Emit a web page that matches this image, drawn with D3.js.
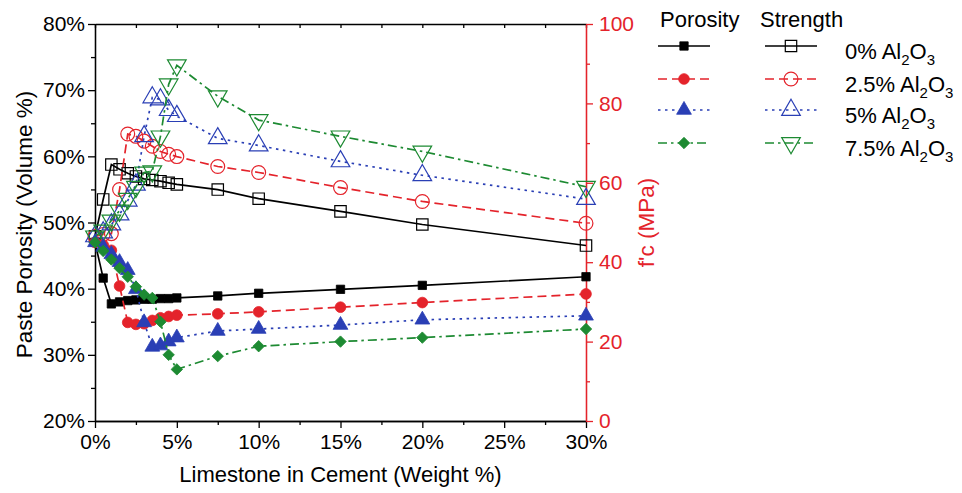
<!DOCTYPE html>
<html>
<head>
<meta charset="utf-8">
<script src="https://cdn.jsdelivr.net/npm/d3@7"></script>
<style>
  body { margin: 0; background: #fff; }
  text { font-family: "Liberation Sans", Arial, sans-serif; }
</style>
</head>
<body>
<svg id="chart" width="962" height="493"></svg>
<script>
// limestone content (weight %)
const limestone = [0, 0.5, 1, 1.5, 2, 2.5, 3, 3.5, 4, 4.5, 5, 7.5, 10, 15, 20, 30];

// paste porosity (volume %), one array per Al2O3 level
const porosity0  = [47.0, 41.6, 37.7, 38.0, 38.2, 38.3, 38.4, 38.4, 38.5, 38.5, 38.6, 38.9, 39.3, 39.9, 40.5, 41.8];
const porosity25 = [47.0, 46.6, 45.8, 40.4, 34.9, 34.6, 34.7, 35.2, 35.6, 35.8, 36.0, 36.2, 36.5, 37.2, 37.9, 39.2];
const porosity5  = [47.0, 46.3, 45.2, 44.0, 42.8, 39.9, 34.9, 31.2, 31.4, 32.0, 32.6, 33.6, 33.9, 34.5, 35.3, 35.9];
const porosity75 = [47.0, 45.7, 44.4, 43.1, 41.8, 40.3, 39.1, 38.6, 35.0, 30.0, 27.8, 29.8, 31.3, 32.0, 32.6, 33.9];

// compressive strength f'c (MPa)
const strength0  = [46.5, 55.8, 64.6, 63.4, 62.4, 61.6, 61.0, 60.7, 60.4, 60.0, 59.6, 58.3, 56.0, 52.8, 49.5, 44.2];
const strength25 = [46.5, 47.0, 47.2, 58.3, 72.3, 71.7, 70.5, 69.2, 67.9, 67.2, 66.6, 64.1, 62.6, 58.8, 55.3, 49.8];
const strength5  = [46.5, 47.5, 49.5, 52.0, 55.5, 59.5, 71.7, 81.5, 81.0, 78.3, 76.8, 71.2, 69.4, 65.4, 61.9, 55.9];
const strength75 = [46.5, 48.0, 50.5, 53.0, 56.0, 59.0, 62.6, 62.9, 71.7, 84.8, 89.6, 81.8, 75.8, 71.7, 67.9, 59.0];

const aluminaLevels = ["0%", "2.5%", "5%", "7.5%"];
const xTicks = [0, 5, 10, 15, 20, 25, 30];
const xMinor = [2.5, 7.5, 12.5, 17.5, 22.5, 27.5];
const porosityTicks = [20, 30, 40, 50, 60, 70, 80];
const porosityMinor = [25, 35, 45, 55, 65, 75];
const strengthTicks = [0, 20, 40, 60, 80, 100];
const strengthMinor = [10, 30, 50, 70, 90];

const porositySeries = [porosity0, porosity25, porosity5, porosity75];
const strengthSeries = [strength0, strength25, strength5, strength75];

const red = "#e4232b";
const styles = [
    { color: "#000000", dash: null,        fill: d3.symbolSquare,   open: d3.symbolSquare,   fillSize: 70,  openSize: 130, fillRot: 0,  openRot: 0 },
    { color: red,       dash: "9,5",       fill: d3.symbolCircle,   open: d3.symbolCircle,   fillSize: 90,  openSize: 150, fillRot: 0,  openRot: 0 },
    { color: "#2a3fb5", dash: "2.5,4.5",   fill: d3.symbolTriangle, open: d3.symbolTriangle, fillSize: 95,  openSize: 150, fillRot: 0,  openRot: 0 },
    { color: "#1d8a32", dash: "9,4,2.5,4", fill: d3.symbolSquare,   open: d3.symbolTriangle, fillSize: 65,  openSize: 150, fillRot: 45, openRot: 180 }
];

const svg = d3.select("#chart");
const plotLeft = 95, plotRight = 586, plotTop = 24, plotBottom = 421;

const x = d3.scaleLinear().domain([0, 30]).range([plotLeft, plotRight]);
const yP = d3.scaleLinear().domain([20, 80]).range([plotBottom, plotTop]);
const yS = d3.scaleLinear().domain([0, 100]).range([plotBottom, plotTop]);

function styleAxis(g, color, size) {
    g.selectAll("path").attr("stroke", color).attr("stroke-width", 1.3);
    g.selectAll("line").attr("stroke", color).attr("stroke-width", 1.3);
    g.selectAll("text").attr("fill", color).style("font-size", size + "px")
        .style("font-family", '"Liberation Sans", Arial, sans-serif');
}

// bottom axis
svg.append("g").attr("transform", `translate(0,${plotBottom})`)
    .call(d3.axisBottom(x).tickValues(xMinor).tickFormat("").tickSize(4).tickSizeOuter(0))
    .call(g => styleAxis(g, "#000", 21));
svg.append("g").attr("transform", `translate(0,${plotBottom})`)
    .call(d3.axisBottom(x).tickValues(xTicks).tickFormat(d => d + "%").tickSize(7).tickPadding(6).tickSizeOuter(0))
    .call(g => styleAxis(g, "#000", 21));

// top border with inward ticks
svg.append("g").attr("transform", `translate(0,${plotTop})`)
    .call(d3.axisTop(x).tickValues(xTicks.concat(xMinor)).tickFormat("").tickSize(-4).tickSizeOuter(0))
    .call(g => styleAxis(g, "#000", 21));

// left porosity axis
svg.append("g").attr("transform", `translate(${plotLeft},0)`)
    .call(d3.axisLeft(yP).tickValues(porosityMinor).tickFormat("").tickSize(4).tickSizeOuter(0))
    .call(g => styleAxis(g, "#000", 21));
svg.append("g").attr("transform", `translate(${plotLeft},0)`)
    .call(d3.axisLeft(yP).tickValues(porosityTicks).tickFormat(d => d + "%").tickSize(7).tickPadding(3).tickSizeOuter(0))
    .call(g => styleAxis(g, "#000", 21));

// right strength axis
svg.append("g").attr("transform", `translate(${plotRight},0)`)
    .call(d3.axisRight(yS).tickValues(strengthMinor).tickFormat("").tickSize(4).tickSizeOuter(0))
    .call(g => styleAxis(g, red, 21));
svg.append("g").attr("transform", `translate(${plotRight},0)`)
    .call(d3.axisRight(yS).tickValues(strengthTicks).tickFormat(d => d).tickSize(7).tickPadding(6).tickSizeOuter(0))
    .call(g => styleAxis(g, red, 21));

// axis titles
svg.append("text")
    .attr("transform", `translate(32,${(plotTop + plotBottom) / 2 + 2}) rotate(-90)`)
    .attr("text-anchor", "middle")
    .style("font-size", "22.5px")
    .text("Paste Porosity (Volume %)");

svg.append("text")
    .attr("transform", `translate(654,${(plotTop + plotBottom) / 2}) rotate(-90)`)
    .attr("text-anchor", "middle")
    .attr("fill", red)
    .style("font-size", "22.5px")
    .text("f'c (MPa)");

svg.append("text")
    .attr("x", (plotLeft + plotRight) / 2)
    .attr("y", 482)
    .attr("text-anchor", "middle")
    .style("font-size", "22px")
    .text("Limestone in Cement (Weight %)");

// series
function drawSeries(values, yScale, st, filled) {
    const pts = limestone.map((d, i) => ({ x: d, y: values[i] }));
    const line = d3.line().x(d => x(d.x)).y(d => yScale(d.y));

    svg.append("path")
        .datum(pts)
        .attr("d", line)
        .attr("fill", "none")
        .attr("stroke", st.color)
        .attr("stroke-width", 1.7)
        .attr("stroke-dasharray", st.dash);

    const sym = d3.symbol()
        .type(filled ? st.fill : st.open)
        .size(filled ? st.fillSize : st.openSize);
    const rot = filled ? st.fillRot : st.openRot;

    svg.append("g").selectAll("path")
        .data(pts)
        .enter().append("path")
        .attr("d", sym)
        .attr("transform", d => `translate(${x(d.x)},${yScale(d.y)}) rotate(${rot})`)
        .attr("fill", filled ? st.color : "none")
        .attr("stroke", st.color)
        .attr("stroke-width", filled ? 0.8 : 1.2);
}

strengthSeries.forEach((s, i) => drawSeries(s, yS, styles[i], false));
porositySeries.forEach((s, i) => drawSeries(s, yP, styles[i], true));

// legend
const legend = svg.append("g");
legend.append("text").attr("x", 660).attr("y", 27).style("font-size", "22px").text("Porosity");
legend.append("text").attr("x", 760).attr("y", 27).style("font-size", "22px").text("Strength");

const rowY = [46, 79, 110, 143];

aluminaLevels.forEach((lvl, i) => {
    const st = styles[i];
    const y = rowY[i];
    [[658, 710, true], [765, 817, false]].forEach(([x0, x1, filled]) => {
        legend.append("line")
            .attr("x1", x0).attr("x2", x1).attr("y1", y).attr("y2", y)
            .attr("stroke", st.color)
            .attr("stroke-width", 1.7)
            .attr("stroke-dasharray", st.dash);
        const sym = d3.symbol().type(filled ? st.fill : st.open).size(filled ? st.fillSize : st.openSize);
        legend.append("path")
            .attr("d", sym)
            .attr("transform", `translate(${(x0 + x1) / 2},${y}) rotate(${filled ? st.fillRot : st.openRot})`)
            .attr("fill", filled ? st.color : "none")
            .attr("stroke", st.color)
            .attr("stroke-width", filled ? 0.8 : 1.2);
    });

    const t = legend.append("text").attr("x", 845).attr("y", y + 13).style("font-size", "22px");
    t.append("tspan").text(lvl + " Al");
    t.append("tspan").attr("dy", 6).style("font-size", "15px").text("2");
    t.append("tspan").attr("dy", -6).text("O");
    t.append("tspan").attr("dy", 6).style("font-size", "15px").text("3");
});
</script>
</body>
</html>
